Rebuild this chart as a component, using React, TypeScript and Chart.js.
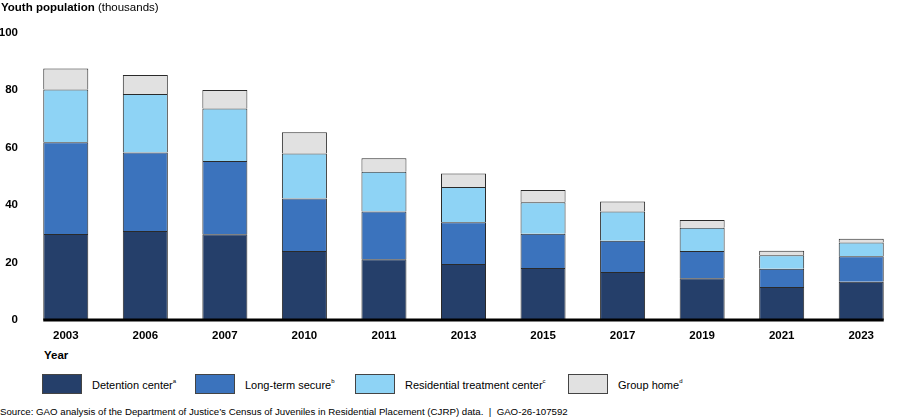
import React, { useEffect, useRef } from "react";
import { Chart, registerables } from "chart.js";

Chart.register(...registerables);

const years = ["2003", "2006", "2007", "2010", "2011", "2013", "2015", "2017", "2019", "2021", "2023"];
const detention = [29.9, 31.0, 29.8, 24.0, 21.1, 19.5, 18.1, 16.7, 14.5, 11.5, 13.3];
const longTerm = [31.9, 27.3, 25.5, 18.3, 16.6, 14.5, 11.9, 10.9, 9.5, 6.3, 8.9];
const residential = [18.4, 20.3, 18.3, 15.6, 13.9, 12.3, 11.0, 10.1, 8.1, 4.7, 4.8];
const groupHome = [7.3, 6.6, 6.4, 7.4, 4.7, 4.7, 4.2, 3.5, 2.7, 1.6, 1.3];
const yTicks = [0, 20, 40, 60, 80, 100];

const seriesNames = ["Detention center", "Long-term secure", "Residential treatment center", "Group home"];
const seriesNotes = ["a", "b", "c", "d"];
const seriesColors = ["#253f6a", "#3b73bd", "#8ed3f5", "#e1e1e1"];

const FONT = "Arial, 'Liberation Sans', Helvetica, sans-serif";

const baselinePlugin = {
  id: "baseline",
  afterDatasetsDraw(chart: any) {
    const meta = chart.getDatasetMeta(0);
    if (!meta || !meta.data.length) return;
    const first: any = meta.data[0];
    const last: any = meta.data[meta.data.length - 1];
    const y = chart.scales.y.getPixelForValue(0);
    const ctx = chart.ctx;
    ctx.save();
    ctx.strokeStyle = "#000";
    ctx.lineWidth = 3;
    ctx.beginPath();
    ctx.moveTo(first.x - first.width / 2, y);
    ctx.lineTo(last.x + last.width / 2, y);
    ctx.stroke();
    ctx.restore();
  },
};

export default function App() {
  const ref = useRef<HTMLCanvasElement | null>(null);

  useEffect(() => {
    if (!ref.current) return;
    const values = [detention, longTerm, residential, groupHome];
    const chart = new Chart(ref.current, {
      type: "bar",
      data: {
        labels: years,
        datasets: values.map((v, i) => ({
          label: seriesNames[i],
          data: v,
          backgroundColor: seriesColors[i],
          borderColor: "#2a2a2a",
          borderWidth: 1,
          barPercentage: 0.566,
          categoryPercentage: 1,
        })),
      },
      options: {
        responsive: false,
        animation: false,
        devicePixelRatio: 1,
        layout: { padding: { top: 32.5, left: 0, right: 0, bottom: 0 } },
        plugins: { legend: { display: false }, tooltip: { enabled: false }, title: { display: false } },
        scales: {
          x: {
            stacked: true,
            grid: { display: false, drawTicks: false },
            border: { display: false },
            ticks: { color: "#000", padding: 9, font: { family: FONT, size: 11.5, weight: "bold" } },
            afterFit: (s: any) => {
              s.height = 25;
            },
          },
          y: {
            stacked: true,
            min: 0,
            max: 100,
            afterBuildTicks: (s: any) => {
              s.ticks = yTicks.map((v) => ({ value: v }));
            },
            grid: { display: false, drawTicks: false },
            border: { display: false },
            ticks: { color: "#000", padding: 8, font: { family: FONT, size: 11.5, weight: "bold" } },
            afterFit: (s: any) => {
              s.width = 26;
            },
          },
        },
      },
      plugins: [baselinePlugin],
    } as any);
    return () => chart.destroy();
  }, []);

  return (
    <div
      style={{
        position: "fixed",
        left: 0,
        top: 0,
        width: 900,
        height: 419,
        overflow: "hidden",
        background: "#fff",
        fontFamily: FONT,
        color: "#000",
      }}
    >
      <canvas ref={ref} width={901} height={345} style={{ position: "absolute", left: 0, top: 0 }} />
      <div style={{ position: "absolute", left: 1, top: 0, fontSize: 11.5, lineHeight: "14px", whiteSpace: "nowrap" }}>
        <b>Youth population</b> (thousands)
      </div>
      <div style={{ position: "absolute", left: 44, top: 348, fontSize: 11.5, lineHeight: "14px", fontWeight: "bold" }}>
        Year
      </div>
      {seriesNames.map((name, i) => {
        const lefts = [42, 195, 355, 568];
        return (
          <div
            key={name}
            style={{ position: "absolute", left: lefts[i], top: 374, height: 20, display: "flex", alignItems: "center", whiteSpace: "nowrap" }}
          >
            <span
              style={{
                display: "inline-block",
                width: 38,
                height: 18,
                background: seriesColors[i],
                border: "1px solid #444",
                marginRight: 10,
              }}
            />
            <span style={{ fontSize: 11, lineHeight: "20px", position: "relative", top: 1 }}>
              {name}
              <sup style={{ fontSize: 6, verticalAlign: "top", lineHeight: "12px" }}>{seriesNotes[i]}</sup>
            </span>
          </div>
        );
      })}
      <div style={{ position: "absolute", left: 0, top: 405, fontSize: 9.7, lineHeight: "14px", whiteSpace: "nowrap" }}>
        Source: GAO analysis of the Department of Justice’s Census of Juveniles in Residential Placement (CJRP) data.&nbsp; |&nbsp; GAO-26-107592
      </div>
    </div>
  );
}
